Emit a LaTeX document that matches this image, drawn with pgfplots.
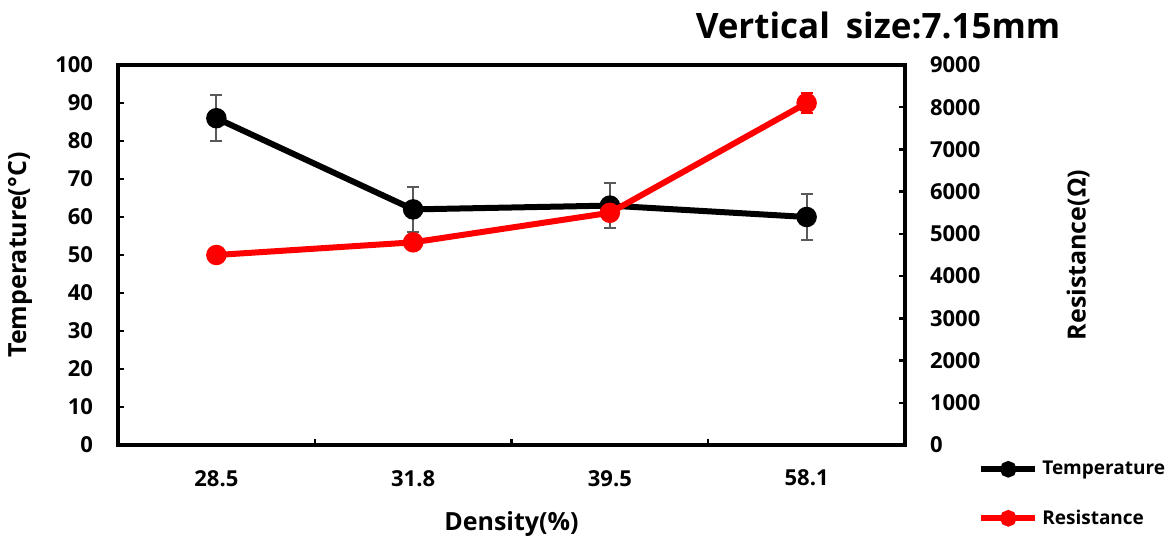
\documentclass[border=0pt]{standalone}
\usepackage{fontspec}
\setmainfont{Open Sans}
\usepackage{pgfplots}
\pgfplotsset{compat=1.18}
\definecolor{errgray}{HTML}{595959}
\definecolor{resred}{HTML}{FF0000}

\begin{document}
\begin{tikzpicture}[x=1pt,y=1pt]
\useasboundingbox (-59,-50.5) rectangle (524,222.5);
\pgfplotsset{
  common/.style={
    scale only axis, width=393.5pt, height=190pt,
    at={(0pt,0pt)}, anchor=south west,
    xmin=-0.5, xmax=3.5,
    axis line style={line width=1.6pt},
    tick style={line width=1.2pt, black},
    major tick length=3pt, minor tick length=3pt,
    tick align=inside,
    tick label style={font=\bfseries\fontsize{11}{13}\selectfont},
    /pgf/number format/assume math mode=true,
    /pgf/number format/1000 sep={},
    label style={font=\bfseries\fontsize{12.5}{14}\selectfont},
    legend image code/.code={
      \draw[mark repeat=2,mark phase=2,#1]
        plot coordinates {(0pt,0pt)(13.5pt,0pt)(27pt,0pt)};
    },
  },
}
\begin{axis}[common,
  ymin=0, ymax=100, ytick={0,10,...,100},
  xtick={0,1,2,3}, xticklabels={28.5,31.8,39.5,58.1},
  major x tick style={draw=none},
  minor xtick={0.5,1.5,2.5},
  ytick pos=left, xtick pos=bottom,
  xticklabel style={yshift=-9pt},
  yticklabel style={xshift=-9pt},
  ylabel={Temperature(°C)}, xlabel={Density(\%)},
  ylabel style={at={(axis description cs:-0.1245,0.5)}, anchor=center},
  xlabel style={at={(axis description cs:0.5,-0.208)}, anchor=center},
]
\addplot[black, line width=3pt, mark=*, mark size=3.6pt,
  mark options={solid, fill=black},
  error bars/.cd, y dir=both, y explicit,
  error bar style={errgray, line width=1pt},
  error mark options={rotate=90, mark size=3pt, errgray, line width=1pt}]
  coordinates {(0,86) +- (0,6) (1,62) +- (0,6) (2,63) +- (0,6) (3,60) +- (0,6)};
\end{axis}
\begin{axis}[common,
  ymin=0, ymax=9000, ytick={0,1000,...,9000},
  axis y line*=right, axis x line=none,
  yticklabel style={xshift=9pt},
  ylabel={Resistance(Ω)},
  ylabel style={at={(axis description cs:1.22,0.5)}, anchor=center},
  legend style={at={(axis description cs:1.085,-0.02)}, anchor=north west,
    draw=none, fill=none, row sep=12pt,
    font=\bfseries\fontsize{9.5}{11}\selectfont},
  legend cell align=left,
]
\addlegendimage{black, line width=3pt, mark=*, mark size=2.6pt, mark options={solid, fill=black}}
\addlegendentry{Temperature}
\addlegendimage{resred, line width=3pt, mark=*, mark size=2.6pt, mark options={solid, fill=resred}}
\addlegendentry{Resistance}
\addplot[resred, line width=3pt, mark=*, mark size=3.6pt,
  mark options={solid, fill=resred},
  error bars/.cd, y dir=both, y explicit,
  error bar style={resred, line width=1pt},
  error mark options={rotate=90, mark size=3pt, resred, line width=1pt}]
  coordinates {(0,4500) +- (0,100) (1,4800) +- (0,100) (2,5500) +- (0,150) (3,8100) +- (0,240)};
\end{axis}
\node[font=\bfseries\fontsize{17.5}{22}\selectfont] at (380,210) {Vertical\hspace{0.45em}size:7.15mm};
\end{tikzpicture}
\end{document}
